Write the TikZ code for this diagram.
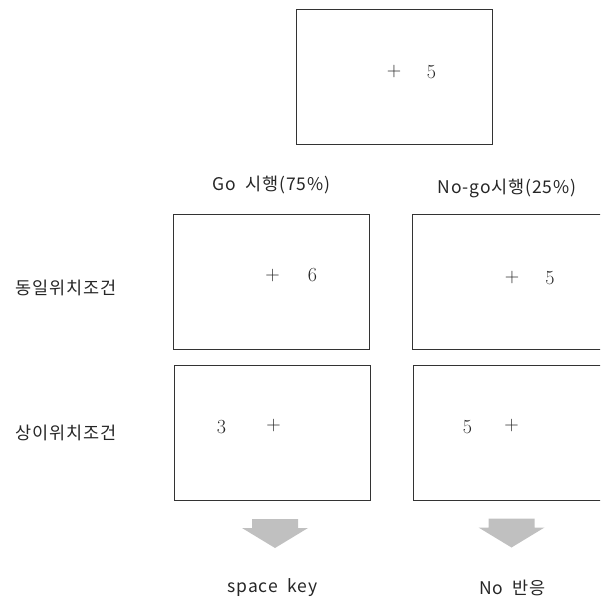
\documentclass[tikz,border=0pt]{standalone}
\usepackage{fontspec}
\newfontfamily\kr{Noto Sans CJK KR}[LetterSpace=5]
\definecolor{boxline}{HTML}{333333}
\definecolor{arrowgray}{HTML}{C0C0C0}
\begin{document}
\begin{tikzpicture}[x=1pt,y=-1pt,
  screen/.style={draw=boxline, line width=0.9pt, minimum width=196pt, minimum height=135pt, inner sep=0pt, anchor=north west},
  lbl/.style={font=\kr\fontsize{17.5}{20}\selectfont, inner sep=0pt, text=black!85},
  dig/.style={font=\fontsize{20}{22}\selectfont, inner sep=0pt, text=black!85},
  blockarrow/.style={fill=arrowgray, draw=none}]
\useasboundingbox (0,0) rectangle (600,602);
\clip (0,0) rectangle (600,602);
% screens
\node[screen] (top) at (296,9) {};
\node[screen] (go1) at (173,214) {};
\node[screen] (ng1) at (412,214) {};
\node[screen] (go2) at (174,365) {};
\node[screen] (ng2) at (413,365) {};
% stimuli
\node[dig] (topp) at (394,72) {+};
\node[dig] (topn) at (431.5,72) {5};
\node[dig] (go1p) at (272.5,276) {+};
\node[dig] (go1n) at (312.5,275) {6};
\node[dig] (ng1p) at (512,278) {+};
\node[dig] (ng1n) at (550,278) {5};
\node[dig] (go2n) at (221.5,427) {3};
\node[dig] (go2p) at (273.5,426) {+};
\node[dig] (ng2n) at (467.5,427) {5};
\node[dig] (ng2p) at (511.5,426) {+};
% headings
\node[lbl] (goh) at (271.5,185) {Go\ \ 시행(75\%)};
\node[lbl] (ngh) at (507,188) {No-go시행(25\%)};
\node[lbl] (row1) at (66,288) {동일위치조건};
\node[lbl] (row2) at (66,433) {상이위치조건};
% block arrows
\coordinate (a1) at (275,519);
\coordinate (a2) at (511.5,518.5);
\fill[blockarrow] ([xshift=-23pt]a1) -- ([xshift=23pt]a1) -- ([xshift=23pt,yshift=-9pt]a1) -- ([xshift=33pt,yshift=-9pt]a1) -- ([yshift=-29pt]a1) -- ([xshift=-33pt,yshift=-9pt]a1) -- ([xshift=-23pt,yshift=-9pt]a1) -- cycle;
\fill[blockarrow] ([xshift=-23pt]a2) -- ([xshift=23pt]a2) -- ([xshift=23pt,yshift=-9pt]a2) -- ([xshift=33pt,yshift=-9pt]a2) -- ([yshift=-29pt]a2) -- ([xshift=-33pt,yshift=-9pt]a2) -- ([xshift=-23pt,yshift=-9pt]a2) -- cycle;
% responses
\node[lbl] (r1) at (272.5,588) {space\ \ key};
\node[lbl] (r2) at (512.5,588) {No\ \ 반응};
\end{tikzpicture}
\end{document}
